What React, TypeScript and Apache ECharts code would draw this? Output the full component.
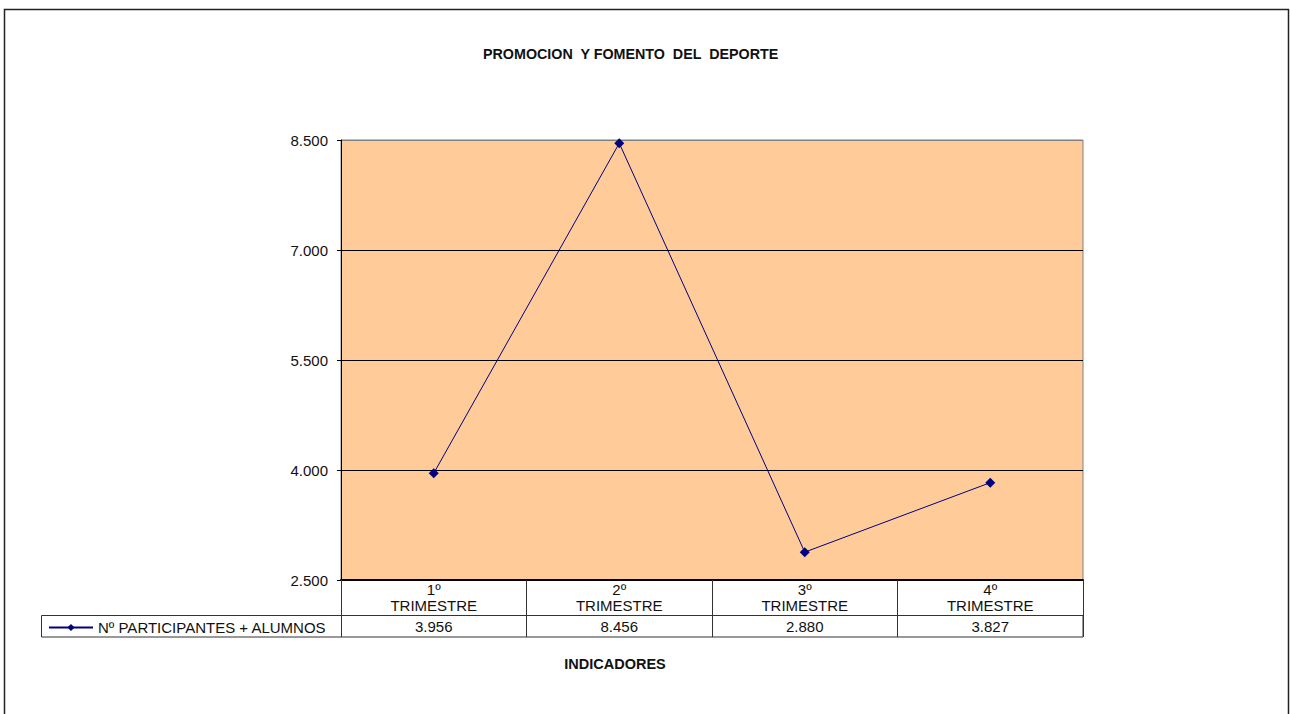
import React, { useEffect, useRef } from "react";
import * as echarts from "echarts";

const title = "PROMOCION  Y FOMENTO  DEL  DEPORTE";
const xTitle = "INDICADORES";
const seriesName = "Nº PARTICIPANTES + ALUMNOS";
const categories = ["1º\nTRIMESTRE", "2º\nTRIMESTRE", "3º\nTRIMESTRE", "4º\nTRIMESTRE"];
const values = [3956, 8456, 2880, 3827];
const yMin = 2500;
const yMax = 8500;
const yStep = 1500;

const fmt = (n: number) => {
  const s = Math.round(n).toString();
  return s.replace(/\B(?=(\d{3})+(?!\d))/g, ".");
};

const FONT = "'Liberation Sans', Arial, sans-serif";

export default function App() {
  const ref = useRef<HTMLDivElement>(null);
  useEffect(() => {
    document.body.style.margin = "0";
    const chart = echarts.init(ref.current!, undefined, { renderer: "svg" });
    chart.setOption({
      animation: false,
      backgroundColor: "#ffffff",
      textStyle: { fontFamily: FONT },
      title: {
        text: title,
        left: 478,
        top: 42,
        textStyle: { fontSize: 14.3, fontWeight: "bold", color: "#111", fontFamily: FONT },
      },
      legend: {
        left: 43,
        top: 615,
        itemWidth: 44,
        itemHeight: 9,
        itemGap: 4,
        textStyle: { fontSize: 15, color: "#111", fontFamily: FONT },
        data: [seriesName],
      },
      grid: {
        left: 341,
        right: 207,
        top: 140,
        bottom: 134,
        show: true,
        backgroundColor: "#FFCC99",
        borderColor: "#808080",
        borderWidth: 1,
      },
      xAxis: [
        {
          type: "category",
          data: categories,
          boundaryGap: true,
          axisLine: { show: true, lineStyle: { color: "#000", width: 2 } },
          axisTick: { show: true, interval: 0, length: 57, lineStyle: { color: "#333", width: 1 } },
          axisLabel: {
            interval: 0,
            margin: 1,
            fontSize: 15,
            lineHeight: 16,
            color: "#111",
            fontFamily: FONT,
          },
        },
        {
          type: "category",
          position: "bottom",
          offset: 35,
          data: values.map(fmt),
          boundaryGap: true,
          axisLine: { show: false },
          axisTick: { show: false },
          axisLabel: { interval: 0, margin: 4, fontSize: 15, color: "#111", fontFamily: FONT },
        },
      ],
      yAxis: {
        type: "value",
        min: yMin,
        max: yMax,
        interval: yStep,
        axisLine: { show: true, lineStyle: { color: "#000", width: 1 } },
        axisTick: { show: true, length: 4, lineStyle: { color: "#000" } },
        axisLabel: {
          margin: 13,
          fontSize: 15,
          color: "#111",
          fontFamily: FONT,
          formatter: (v: number) => fmt(v),
        },
        splitLine: {
          show: true,
          lineStyle: { color: ["#000", "#000", "#000", "#000", "#808080"], width: 1 },
        },
      },
      series: [
        {
          name: seriesName,
          type: "line",
          data: values,
          xAxisIndex: 0,
          symbol: "diamond",
          symbolSize: 10,
          itemStyle: { color: "#000080" },
          lineStyle: { color: "#000080", width: 1 },
        },
      ],
      graphic: [
        {
          type: "rect",
          shape: { x: 4.5, y: 9.5, width: 1284, height: 720 },
          style: { fill: "none", stroke: "#222", lineWidth: 1.5 },
          silent: true,
        },
        {
          type: "rect",
          shape: { x: 41.5, y: 615.5, width: 1041.5, height: 21.5 },
          style: { fill: "none", stroke: "#333", lineWidth: 1 },
          silent: true,
        },
        {
          type: "text",
          x: 615,
          y: 664,
          style: {
            text: xTitle,
            fontSize: 14.5,
            fontWeight: "bold",
            fill: "#111",
            fontFamily: FONT,
            textAlign: "center",
            textVerticalAlign: "middle",
          },
        },
      ],
    });
    return () => chart.dispose();
  }, []);
  return (
    <div
      ref={ref}
      style={{ position: "absolute", left: 0, top: 0, width: 1290, height: 714 }}
    />
  );
}
